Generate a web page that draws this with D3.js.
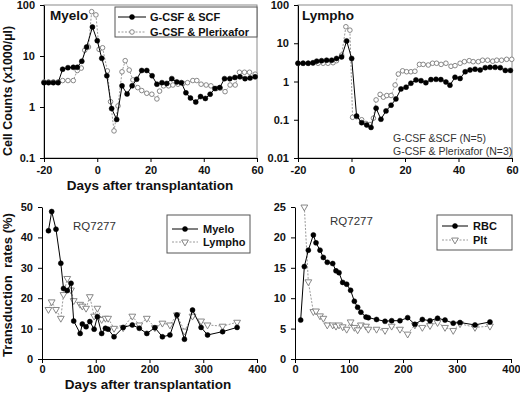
<!DOCTYPE html>
<html><head><meta charset="utf-8">
<script src="https://cdn.jsdelivr.net/npm/d3@7"></script>
<style>
body{margin:0;background:#fff}
svg{display:block}
text{font-family:"Liberation Sans",Arial,sans-serif}
</style>
</head><body>
<svg id="c" width="520" height="396"></svg>
<script>
// ---- Top-left: Myelo cell counts ----
const myeloScfDays = [-20,-18.3,-16.5,-14.7,-13,-11,-9,-7.5,-5.8,-4,-1.8,0,1.7,3.6,5.4,7.3,9.3,11.2,13.1,14.8,16.7,18.6,20.6,22.4,24.3,26.1,28,29.9,31.6,33.3,35,37,38.8,40.6,42.4,44.2,46,47.8,49.8,51.7,53.6,55.5,57.4,59.3];
const myeloScfVals = [3.0,3.0,3.0,3.0,5.5,5.9,6.0,6.0,7.9,15,37,20,9,4.1,0.93,0.57,2.6,1.8,2.6,3.5,5.2,5.2,4.1,2.8,3.0,2.9,3.6,3.1,3.0,1.9,1.5,1.25,1.6,1.47,1.78,2.3,2.4,3.6,3.6,3.8,3.9,3.6,3.7,3.9];
const myeloPlerDays = [-20,-18.3,-16.5,-14.7,-13,-11,-9,-7.5,-6,-4.7,-3.3,-2.1,-0.5,0.7,2,3.8,5,6.3,7.8,9.3,10.5,12,13.4,15.2,16.7,18.6,20.5,22.4,23.4,24.9,26.8,28.4,30.3,32.2,33.9,35.9,37.4,39,40.9,42.7,44.7,46.2,48,49.9,51.8,53.4,55.3,57.2,59.3];
const myeloPlerVals = [3.1,3.1,3.1,3.1,3.3,3.3,3.3,5.2,5.8,13,15,74,64,13.5,14.5,5.1,1.27,0.34,1.05,4.9,8.1,5.3,3.4,2.4,2.1,1.86,1.78,1.44,2.05,2.6,2.6,2.7,2.8,2.9,3.0,3.3,3.3,2.8,2.7,2.6,2.3,2.35,2.0,2.7,2.7,4.8,4.8,4.8,4.4];

// ---- Top-right: Lympho cell counts ----
const lymphoScfDays = [-20,-18.1,-16.2,-14.4,-13,-11.2,-9.3,-7.4,-5.6,-3.7,-1.8,0.06,1.9,3.8,5.7,7.3,9.2,11,12.9,14.8,16.6,18.5,20.4,22.2,24.1,26,27.8,29.7,31.6,33.4,35.3,36.8,38.7,40.6,42.5,44.3,46.2,48.1,50,51.8,53.7,55.6,57.5,59.4];
const lymphoScfVals = [3.0,3.0,3.0,3.1,3.4,3.5,3.6,3.6,4.0,4.4,11.5,4.0,0.125,0.084,0.073,0.063,0.2,0.103,0.17,0.24,0.35,0.64,0.71,0.9,1.1,1.05,0.93,1.12,1.14,1.12,0.97,0.8,1.29,1.2,1.8,2.0,2.1,2.0,2.3,2.35,2.35,2.3,1.95,1.95];
const lymphoPlerDays = [-20,-18.1,-16.2,-14.4,-12.5,-10.6,-8.8,-6.9,-5.6,-3.7,-2.1,-0.6,0.4,1.9,3.8,5.4,6.9,8.2,9.2,10.7,11.9,13.2,14.8,16.3,17.5,19.1,20.6,22.2,23.7,25.4,26.8,28.7,30.3,31.8,33.5,35.3,37.2,38.7,40.6,42.2,44,45.5,47.4,49,50.9,52.8,54.3,56.1,58,59.9];
const lymphoPlerVals = [3.0,3.0,3.0,3.0,3.0,3.0,3.0,3.1,3.5,4.9,27,22,0.116,0.12,0.1,0.08,0.075,0.11,0.33,0.46,0.39,0.43,0.43,0.81,1.57,1.9,1.8,1.8,1.85,2.8,2.8,2.7,3.0,3.0,2.8,3.0,2.5,2.6,3.0,3.3,3.5,3.3,3.3,3.6,3.6,3.4,3.6,3.6,3.8,3.8];

// ---- Bottom-left: transduction Myelo / Lympho ----
const rqDays = [12,18,26,35,40,47,54,59,71,75,82,89,97,103,111,118,123,134,151,168,181,195,210,224,238,251,265,280,296,308,336,363];
const rqMyeloVals = [42.2,48.5,42.7,31.5,23.2,22.5,24.9,12.5,8.4,11.5,10.6,12.3,9.8,13.9,8.4,10.1,9.8,7.3,10.4,11.2,10.1,8.4,10.3,7.3,7.9,14.5,6.5,16.1,10.4,7.9,9.0,10.4];
const rqLymphoVals = [16.3,18.8,16.3,13.4,21.2,26.5,22.7,19.2,18,17.4,16.7,20.5,14.1,16.7,13,13.4,13.4,10.1,10.3,14.1,11.2,13.4,10.3,11.8,11.2,14.5,9.2,14.1,12.5,11.2,10.8,12.1];

// ---- Bottom-right: transduction RBC / Plt ----
const rbcDays = [10.5,17.3,24.7,34,38.9,46.3,52.5,59.8,69.8,75.9,81.5,88.3,95.7,103,109.9,116,122,131.5,135.8,151,166.7,179,194.4,208.6,222,235.8,250,264,277.8,293,305.6,333.3,361];
const rbcVals = [6.4,15.2,17.9,20.4,19.1,17.9,16.7,15.9,15.7,14.5,14.2,12.6,12.3,11.3,9.5,8.5,7.7,6.9,6.8,6.5,6.2,6.3,6.3,6.8,5.7,6.5,6.3,6.7,6.4,5.9,6.0,5.6,6.1];
const pltDays = [17.3,24.7,34,38.9,46.3,52.5,59.8,69.8,75.9,81.5,88.3,95.7,103,109.9,116,122,131.5,135.8,151,166.7,179,194.4,208.6,222,235.8,250,264,277.8,293,305.6,333.3,361];
const pltVals = [25,12.7,7.8,7.9,7.1,6.7,5.6,5.6,5.4,5.6,5.3,4.9,6.1,5.2,4.8,5.6,5.4,4.9,4.9,4.7,5.4,4.9,4.1,5.6,5.2,5.5,6.0,5.2,4.7,5.8,5.2,5.4];

// ---- Tick labels ----
const countTicksTL = [0.1,1,10,100];
const countTicksTR = [0.01,0.1,1,10,100];
const dayTicksTop = [-20,0,20,40,60];
const dayTicksBottom = [0,100,200,300,400];
const rateTicksBL = [0,10,20,30,40,50];
const rateTicksBR = [0,5,10,15,20,25];

const svg = d3.select("#c");
const FONT = '"Liberation Sans",Arial,sans-serif';
const GRAY_LINE = "#9a9a9a", GRAY_MK = "#7a7a7a";

function styleAxis(g){
  g.attr("font-family", FONT).attr("font-size", 11).attr("font-weight", "bold");
  g.selectAll(".domain").attr("stroke", "#000");
  g.selectAll(".tick line").attr("stroke", "#000");
  g.selectAll(".tick text").attr("fill", "#111");
}

function makePanel(p){
  const x = d3.scaleLinear().domain(p.xDomain).range(p.xRange);
  const y = (p.log ? d3.scaleLog() : d3.scaleLinear()).domain(p.yDomain).range(p.yRange);
  const g = svg.append("g");
  if (p.frame){
    g.append("rect").attr("x", p.xRange[0]).attr("y", p.yRange[1])
      .attr("width", p.xRange[1]-p.xRange[0]).attr("height", p.yRange[0]-p.yRange[1])
      .attr("fill","none").attr("stroke","#8a8a8a").attr("stroke-width",1);
  }
  g.append("g").attr("transform", `translate(0,${p.yRange[0]})`)
    .call(d3.axisBottom(x).tickValues(p.xTicks).tickSizeInner(4).tickSizeOuter(0).tickPadding(p.xPad).tickFormat(d => String(d)))
    .call(styleAxis);
  g.append("g").attr("transform", `translate(${p.xRange[0]},0)`)
    .call(d3.axisLeft(y).tickValues(p.yTicks).tickSizeInner(4).tickSizeOuter(0).tickPadding(5).tickFormat(d => String(d)))
    .call(styleAxis);
  return {g, x, y};
}

function drawSeries(panel, days, vals, style){
  const data = d3.zip(days, vals);
  const line = d3.line().x(d => panel.x(d[0])).y(d => panel.y(d[1]));
  const s = panel.g.append("g");
  s.append("path").datum(data).attr("d", line).attr("fill","none")
    .attr("stroke", style.filled ? "#000" : GRAY_LINE)
    .attr("stroke-width", 1)
    .attr("stroke-dasharray", style.filled ? null : "2,1.5");
  drawMarkers(s, data.map(d => [panel.x(d[0]), panel.y(d[1])]), style);
}

function drawMarkers(s, pts, style){
  if (style.shape === "tri"){
    const sym = d3.symbol(d3.symbolTriangle, 20)();
    s.selectAll("path.mk").data(pts).join("path").attr("class","mk")
      .attr("d", sym).attr("transform", d => `translate(${d[0]},${d[1]}) rotate(180)`)
      .attr("fill","#fff").attr("stroke", GRAY_MK).attr("stroke-width", 0.9);
  } else {
    s.selectAll("circle").data(pts).join("circle")
      .attr("cx", d => d[0]).attr("cy", d => d[1]).attr("r", style.filled ? 2.5 : 2.3)
      .attr("fill", style.filled ? "#000" : "#fff")
      .attr("stroke", style.filled ? "#000" : GRAY_MK).attr("stroke-width", style.filled ? 0.5 : 0.9);
  }
}

function legendRow(x1, x2, y, tx, label, style){
  const s = svg.append("g");
  s.append("line").attr("x1", x1).attr("x2", x2).attr("y1", y).attr("y2", y)
    .attr("stroke", style.filled ? "#000" : GRAY_LINE).attr("stroke-width", 1)
    .attr("stroke-dasharray", style.filled ? null : "2,1.5");
  drawMarkers(s, [[(x1+x2)/2, y]], style);
  s.append("text").attr("x", tx).attr("y", y+4).attr("font-size", 11)
    .attr("font-weight", "bold").attr("fill", "#111").text(label);
}

function txt(x, y, s, size, weight, opts){
  const t = svg.append("text").attr("x", x).attr("y", y).attr("font-size", size)
    .attr("font-weight", weight).attr("fill", (opts && opts.fill) || "#111").text(s);
  if (opts && opts.anchor) t.attr("text-anchor", opts.anchor);
  if (opts && opts.rotate) t.attr("transform", `rotate(-90,${x},${y})`);
  t.style("white-space", "pre");
  return t;
}

// Panels
const tl = makePanel({xDomain:[-20,60], xRange:[44,257], yDomain:[0.1,100], yRange:[158,5], log:true, xTicks:dayTicksTop, yTicks:countTicksTL, frame:true, xPad:4});
const tr = makePanel({xDomain:[-20,60], xRange:[298,512], yDomain:[0.01,100], yRange:[158,5], log:true, xTicks:dayTicksTop, yTicks:countTicksTR, frame:true, xPad:4});
const bl = makePanel({xDomain:[0,400], xRange:[42,257], yDomain:[0,50], yRange:[359,207], log:false, xTicks:dayTicksBottom, yTicks:rateTicksBL, frame:false, xPad:2});
const br = makePanel({xDomain:[0,400], xRange:[295,511], yDomain:[0,25], yRange:[359,207], log:false, xTicks:dayTicksBottom, yTicks:rateTicksBR, frame:false, xPad:2});

const FILLED = {filled:true, shape:"circle"};
const OPEN = {filled:false, shape:"circle"};
const TRI = {filled:false, shape:"tri"};

drawSeries(tl, myeloPlerDays, myeloPlerVals, OPEN);
drawSeries(tl, myeloScfDays, myeloScfVals, FILLED);
drawSeries(tr, lymphoPlerDays, lymphoPlerVals, OPEN);
drawSeries(tr, lymphoScfDays, lymphoScfVals, FILLED);
drawSeries(bl, rqDays, rqLymphoVals, TRI);
drawSeries(bl, rqDays, rqMyeloVals, FILLED);
drawSeries(br, pltDays, pltVals, TRI);
drawSeries(br, rbcDays, rbcVals, FILLED);

// Titles & axis labels
txt(50, 20, "Myelo", 13.5, "bold");
txt(302, 20, "Lympho", 13.5, "bold");
txt(150, 190, "Days after transplantation", 13.5, "bold", {anchor:"middle"});
txt(148, 389, "Days after transplantation", 13.5, "bold", {anchor:"middle"});
txt(11.5, 91, "Cell Counts (x1000/µl)", 12.5, "bold", {anchor:"middle", rotate:true});
txt(11.5, 285, "Transduction  rates (%)", 13, "bold", {anchor:"middle", rotate:true});
txt(73, 230, "RQ7277", 11.5, "normal", {fill:"#333"});
txt(330, 225, "RQ7277", 11.5, "normal", {fill:"#333"});

// Legends
svg.append("rect").attr("x",115).attr("y",7).attr("width",142).attr("height",30).attr("fill","#fff").attr("stroke","#555").attr("stroke-width",1);
legendRow(118, 146, 17, 150, "G-CSF & SCF", FILLED);
legendRow(118, 146, 32, 150, "G-CSF & Plerixafor", OPEN);

txt(393, 141.5, "G-CSF &SCF (N=5)", 10.5, "normal", {fill:"#333"});
txt(393, 154.5, "G-CSF & Plerixafor (N=3)", 10.5, "normal", {fill:"#333"});

svg.append("rect").attr("x",167).attr("y",215).attr("width",83).attr("height",38).attr("fill","#fff").attr("stroke","#555").attr("stroke-width",1);
legendRow(172, 198, 229, 203, "Myelo", FILLED);
legendRow(172, 198, 242, 203, "Lympho", TRI);

svg.append("rect").attr("x",437).attr("y",215).attr("width",75).attr("height",35).attr("fill","#fff").attr("stroke","#555").attr("stroke-width",1);
legendRow(442, 468, 226, 473, "RBC", FILLED);
legendRow(442, 468, 240, 473, "Plt", TRI);
</script>
</body></html>
